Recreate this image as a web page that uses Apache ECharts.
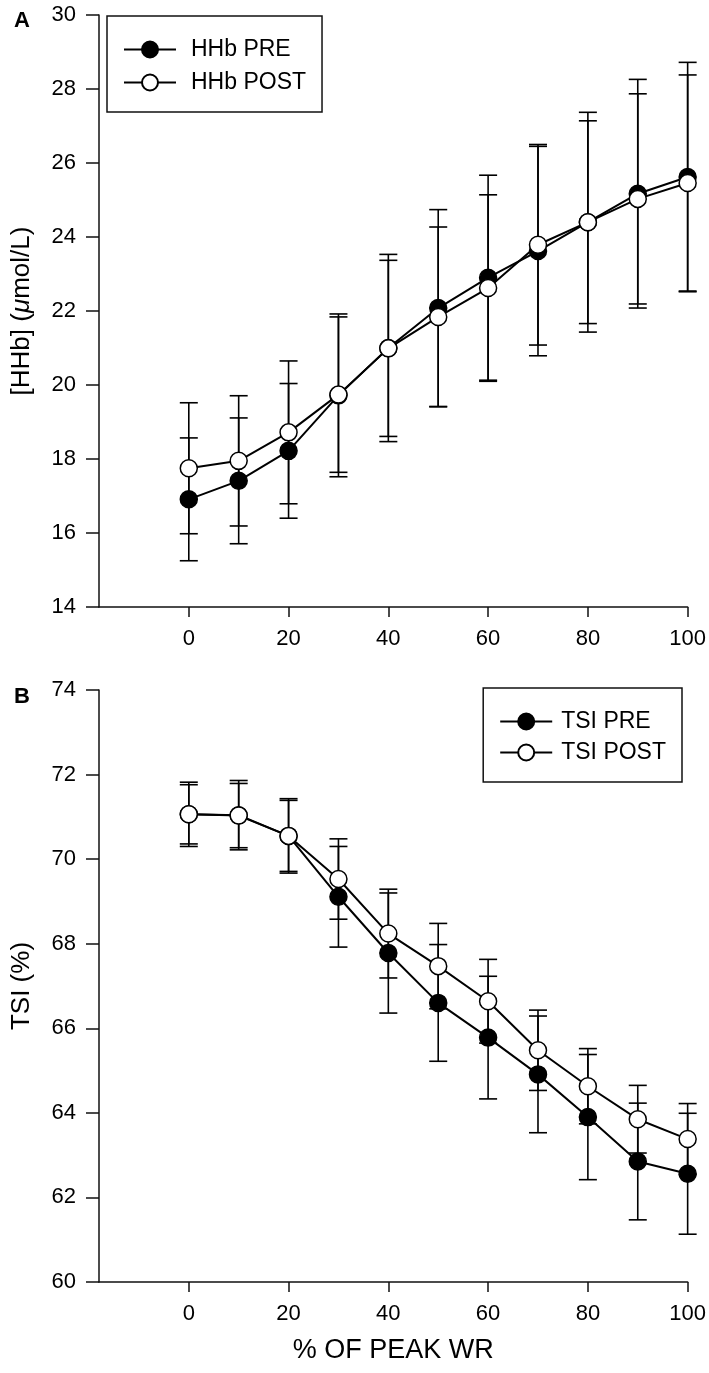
<!DOCTYPE html>
<html>
<head>
<meta charset="utf-8">
<script src="https://cdn.jsdelivr.net/npm/echarts@6/dist/echarts.min.js"></script>
<style>
  html, body {margin:0; padding:0; background:#fff;}
  #main {width:709px; height:1373px;}
</style>
</head>
<body>
<div id="main"></div>
<script>
// % of peak WR
var workRate = [0, 10, 20, 30, 40, 50, 60, 70, 80, 90, 100];
var xTicks = [0, 20, 40, 60, 80, 100];

// panel A: [HHb] (umol/L), mean and SD
var hhbPre = [16.91, 17.41, 18.22, 19.72, 21.00, 22.08, 22.90, 23.62, 24.40, 25.17, 25.62];
var hhbPreSd = [1.66, 1.70, 1.82, 2.20, 2.53, 2.66, 2.77, 2.83, 2.97, 3.09, 3.10];
var hhbPost = [17.75, 17.95, 18.72, 19.74, 20.99, 21.84, 22.62, 23.79, 24.40, 25.03, 25.46];
var hhbPostSd = [1.77, 1.76, 1.93, 2.10, 2.38, 2.43, 2.52, 2.71, 2.74, 2.84, 2.92];

// panel B: TSI (%), mean and SD
var tsiPre = [71.06, 71.04, 70.55, 69.11, 67.78, 66.60, 65.78, 64.91, 63.90, 62.85, 62.56];
var tsiPreSd = [0.76, 0.82, 0.88, 1.19, 1.42, 1.38, 1.45, 1.38, 1.48, 1.38, 1.43];
var tsiPost = [71.06, 71.03, 70.55, 69.53, 68.24, 67.47, 66.64, 65.48, 64.63, 63.85, 63.38];
var tsiPostSd = [0.70, 0.76, 0.84, 0.95, 1.05, 1.01, 0.99, 0.95, 0.89, 0.80, 0.84];

var FONT = '"Liberation Sans", Arial, sans-serif';

function pts(mean){
    return workRate.map(function(x, i){ return [x, mean[i]]; });
}
function bars(mean, sd){
    return workRate.map(function(x, i){ return [x, mean[i] - sd[i], mean[i] + sd[i]]; });
}

function errorBar(params, api){
    var x = api.value(0);
    var lo = api.coord([x, api.value(1)]);
    var hi = api.coord([x, api.value(2)]);
    var w = 9;
    var st = {stroke: '#000', lineWidth: 1.6};
    return {type: 'group', children: [
        {type: 'line', shape: {x1: hi[0], y1: hi[1], x2: lo[0], y2: lo[1]}, style: st},
        {type: 'line', shape: {x1: hi[0] - w, y1: hi[1], x2: hi[0] + w, y2: hi[1]}, style: st},
        {type: 'line', shape: {x1: lo[0] - w, y1: lo[1], x2: lo[0] + w, y2: lo[1]}, style: st}
    ]};
}

function errSeries(idx, mean, sd){
    return {
        type: 'custom', xAxisIndex: idx, yAxisIndex: idx, z: 1,
        renderItem: errorBar, encode: {x: 0, y: [1, 2]},
        data: bars(mean, sd), silent: true
    };
}

function lineSeries(name, idx, mean, filled, z){
    return {
        name: name, type: 'line', xAxisIndex: idx, yAxisIndex: idx, z: z,
        symbol: 'circle', symbolSize: 17, showSymbol: true,
        lineStyle: {color: '#000', width: 2},
        itemStyle: {color: filled ? '#000' : '#fff', borderColor: '#000', borderWidth: 1.5},
        data: pts(mean)
    };
}

function xAxisCfg(idx, withName){
    var a = {
        type: 'value', gridIndex: idx, min: -18, max: 100,
        axisLine: {onZero: false, lineStyle: {color: '#111', width: 1.5}},
        axisTick: {customValues: xTicks, length: 10, lineStyle: {color: '#111', width: 1.5}},
        axisLabel: {customValues: xTicks, color: '#000', fontSize: 22, fontFamily: FONT, margin: 21},
        splitLine: {show: false}
    };
    if (withName) {
        a.name = '% OF PEAK WR';
        a.nameLocation = 'middle';
        a.nameGap = 55;
        a.nameTextStyle = {color: '#000', fontSize: 27, fontFamily: FONT};
    }
    return a;
}

function yAxisCfg(idx, min, max, name, rich){
    return {
        type: 'value', gridIndex: idx, min: min, max: max, interval: 2,
        name: name, nameLocation: 'middle', nameGap: 64,
        nameTextStyle: {color: '#000', fontSize: 26, fontFamily: FONT, rich: rich},
        axisLine: {show: true, onZero: false, lineStyle: {color: '#111', width: 1.5}},
        axisTick: {show: true, length: 13, lineStyle: {color: '#111', width: 1.5}},
        axisLabel: {color: '#000', fontSize: 22, fontFamily: FONT, margin: 23},
        splitLine: {show: false}
    };
}

var option = {
    animation: false,
    backgroundColor: '#fff',
    title: [
        {text: 'A', left: 9, top: 5, textStyle: {fontSize: 22, fontWeight: 'bold', color: '#000', fontFamily: FONT}},
        {text: 'B', left: 9, top: 681, textStyle: {fontSize: 22, fontWeight: 'bold', color: '#000', fontFamily: FONT}}
    ],
    grid: [
        {left: 99, top: 15, width: 590, height: 592},
        {left: 99, top: 690, width: 590, height: 592}
    ],
    legend: [
        {
            data: ['HHb PRE', 'HHb POST'], orient: 'vertical',
            left: 107, top: 16, padding: [22, 16, 18, 16], itemGap: 10,
            itemWidth: 52, itemHeight: 20,
            borderColor: '#111', borderWidth: 1.5,
            textStyle: {color: '#000', fontSize: 23, lineHeight: 20, fontFamily: FONT, padding: [0, 0, 0, 10]}
        },
        {
            data: ['TSI PRE', 'TSI POST'], orient: 'vertical',
            right: 27, top: 688, padding: [22, 16, 18, 16], itemGap: 8,
            itemWidth: 52, itemHeight: 20,
            borderColor: '#111', borderWidth: 1.5,
            textStyle: {color: '#000', fontSize: 23, lineHeight: 20, fontFamily: FONT, padding: [0, 0, 0, 4]}
        }
    ],
    xAxis: [xAxisCfg(0, false), xAxisCfg(1, true)],
    yAxis: [
        yAxisCfg(0, 14, 30, '[HHb] ({i|\u03bc}mol/L)', {i: {fontStyle: 'italic', fontSize: 26, fontFamily: FONT, color: '#000'}}),
        yAxisCfg(1, 60, 74, 'TSI (%)')
    ],
    series: [
        errSeries(0, hhbPre, hhbPreSd),
        errSeries(0, hhbPost, hhbPostSd),
        lineSeries('HHb PRE', 0, hhbPre, true, 2),
        lineSeries('HHb POST', 0, hhbPost, false, 3),
        errSeries(1, tsiPre, tsiPreSd),
        errSeries(1, tsiPost, tsiPostSd),
        lineSeries('TSI PRE', 1, tsiPre, true, 2),
        lineSeries('TSI POST', 1, tsiPost, false, 3)
    ]
};

var myChart = echarts.init(document.getElementById('main'));
myChart.setOption(option);
</script>
</body>
</html>
